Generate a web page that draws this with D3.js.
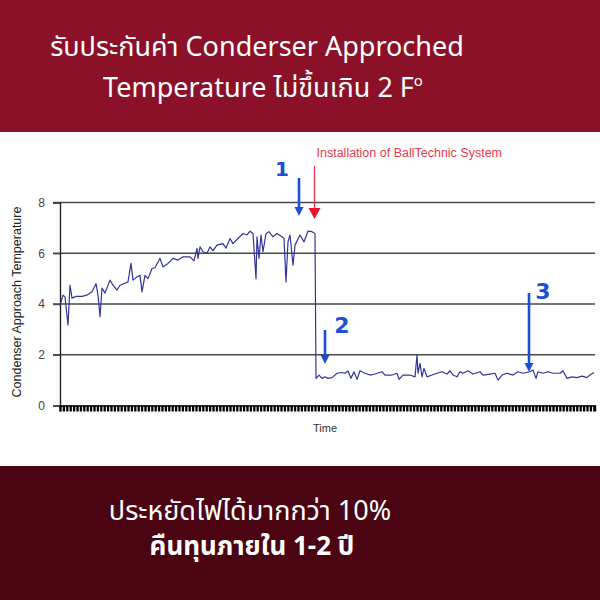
<!DOCTYPE html>
<html><head><meta charset="utf-8">
<script src="https://cdn.jsdelivr.net/npm/d3@7"></script>
<style>html,body{margin:0;padding:0;background:#fff;}svg{display:block;}</style>
</head><body>
<svg id="c" width="600" height="600"></svg>
<script>
// ---- data ----
const timeIdx = [0,3,5,8,10,12,16,22,27,32,36,38,40,42,45,50,53,57,60,65,68,71,73,77,80,82,85,88,92,95,100,103,108,113,118,123,130,134,137,138,140,143,147,150,153,157,163,166,170,173,178,183,187,190,193,196,197,199,201,203,206,209,213,217,222,224,226,228,230,233,235,240,244,248,252,255,
256,259,262,265,268,272,277,282,285,288,291,294,297,300,305,310,315,322,325,332,337,339,343,350,355,357,358,360,362,364,367,372,377,382,387,390,393,397,400,403,408,413,420,423,430,435,438,442,447,453,458,463,470,473,476,478,483,488,493,500,503,507,512,517,522,527,530,534];
const temps = [3.95,4.35,4.28,3.17,4.74,4.23,4.3,4.3,4.35,4.48,4.8,4.35,3.5,4.63,4.43,4.94,4.74,4.55,4.74,4.82,4.87,5.6,4.94,5.07,5.13,4.48,5.13,5.0,5.4,5.43,5.8,5.46,5.6,5.8,5.73,5.86,5.86,5.7,6.19,5.8,6.25,6.06,6.0,6.25,6.1,6.32,6.38,6.2,6.58,6.38,6.58,6.78,6.72,6.87,6.78,5.0,6.65,5.8,6.72,6.06,6.78,6.85,6.65,6.78,6.65,6.58,4.87,6.45,6.72,5.53,6.32,6.72,6.45,6.87,6.85,6.78,
1.07,1.2,1.07,1.13,1.07,1.1,1.27,1.3,1.27,1.36,1.07,1.33,1.03,1.37,1.27,1.2,1.24,1.33,1.2,1.2,1.27,1.03,1.2,1.2,1.13,1.99,1.27,1.66,1.13,1.46,1.13,1.2,1.27,1.33,1.24,1.37,1.2,1.13,1.33,1.27,1.37,1.24,1.33,1.2,1.24,1.27,1.0,1.2,1.27,1.2,1.33,1.27,1.33,1.4,1.07,1.33,1.27,1.33,1.27,1.27,1.37,1.07,1.13,1.1,1.16,1.1,1.2,1.3];
const yTicks = [0,2,4,6,8];
const titleLines = ["รับประกันค่า Conderser Approched", "Temperature ไม่ขึ้นเกิน 2 F"];
const footerLines = ["ประหยัดไฟได้มากกว่า 10%", "คืนทุนภายใน 1-2 ปี"];
const markers = [{label:"1", t:239}, {label:"2", t:265}, {label:"3", t:469}];
const installT = 255;
const installText = "Installation of BallTechnic System";

// ---- layout ----
const svg = d3.select("#c");
const thai = "'Noto Sans Thai','Noto Sans','Noto Sans Thai UI','Loma','Garuda',sans-serif";
const arial = "'Liberation Sans',Arial,sans-serif";

svg.append("rect").attr("x",0).attr("y",0).attr("width",600).attr("height",132).attr("fill","#8b1129");
svg.append("rect").attr("x",0).attr("y",466).attr("width",600).attr("height",134).attr("fill","#4b0512");

svg.append("text").attr("x",257).attr("y",56).attr("text-anchor","middle")
  .attr("fill","#fff").attr("font-family",thai).attr("font-size",27).text(titleLines[0]);
const t2 = svg.append("text").attr("x",263).attr("y",97).attr("text-anchor","middle")
  .attr("fill","#fff").attr("font-family",thai).attr("font-size",27).text(titleLines[1]);
t2.append("tspan").attr("font-size",15).attr("dy",-11).text("o");

svg.append("text").attr("x",250).attr("y",520).attr("text-anchor","middle")
  .attr("fill","#fff").attr("font-family",thai).attr("font-size",27).text(footerLines[0]);
svg.append("text").attr("x",252).attr("y",555).attr("text-anchor","middle")
  .attr("fill","#fff").attr("font-family",thai).attr("font-size",26).attr("font-weight","bold").text(footerLines[1]);

// ---- scales ----
const x = d3.scaleLinear().domain([0,535]).range([60,595]);
const y = d3.scaleLinear().domain([0,8]).range([405.5,202.5]);

// gridlines
svg.append("g").selectAll("line").data(yTicks.filter(d=>d>0)).join("line")
  .attr("x1",53).attr("x2",595).attr("y1",d=>y(d)).attr("y2",d=>y(d))
  .attr("stroke","#4a4a4a").attr("stroke-width",1.4);

// y axis
const yAxis = d3.axisLeft(y).tickValues(yTicks).tickSize(7).tickPadding(8);
const ya = svg.append("g").attr("transform","translate(60,0)").call(yAxis);
ya.select(".domain").attr("stroke","#222").attr("stroke-width",1.4);
ya.selectAll(".tick line").attr("stroke","#4a4a4a").attr("stroke-width",1.4);
ya.selectAll(".tick text").attr("font-family",arial).attr("font-size",12).attr("fill","#444");

// x axis - dense ticks
const xt = d3.range(0,536,3.4);
const xAxis = d3.axisBottom(x).tickValues(xt).tickSize(6).tickFormat("");
const xa = svg.append("g").attr("transform","translate(0,405.5)").call(xAxis);
xa.select(".domain").attr("stroke","#000").attr("stroke-width",1.4);
xa.selectAll(".tick line").attr("stroke","#000").attr("stroke-width",2.3);

svg.append("text").attr("x",325).attr("y",432).attr("text-anchor","middle")
  .attr("font-family",arial).attr("font-size",11).attr("fill","#333").text("Time");
svg.append("text").attr("transform","translate(21,302) rotate(-90)").attr("text-anchor","middle")
  .attr("font-family",arial).attr("font-size",12.5).attr("fill","#222").text("Condenser Approach Temperature");

// data line
const data = timeIdx.map((t,i)=>({t, v:temps[i]}));
svg.append("path").datum(data)
  .attr("d", d3.line().x(d=>x(d.t)).y(d=>y(d.v)))
  .attr("fill","none").attr("stroke","#34349a").attr("stroke-width",1.2).attr("stroke-linejoin","round");

// install annotation
const ix = x(installT) - 0.5;
svg.append("text").attr("x",ix+2).attr("y",157).attr("font-family",arial).attr("font-size",12.5)
  .attr("fill","#e8384f").text(installText);
svg.append("line").attr("x1",ix).attr("x2",ix).attr("y1",166).attr("y2",209)
  .attr("stroke","#e8384f").attr("stroke-width",1.3);
svg.append("path").attr("d",`M${ix-6},208 L${ix+6},208 L${ix},219 Z`).attr("fill","#e4152c");

// blue markers
const blue = "#1c4fd6";
const mk = [
  {lx:-17, ly:176, y1:178, y2:216, fs:20},
  {lx:17, ly:333, y1:330, y2:364, fs:22},
  {lx:14, ly:299, y1:293, y2:372, fs:22}
];
markers.forEach((m,i)=>{
  const p = mk[i]; const mx = x(m.t);
  svg.append("text").attr("x",mx+p.lx).attr("y",p.ly).attr("text-anchor","middle")
    .attr("font-family","'DejaVu Sans',Verdana,sans-serif").attr("font-weight","bold").attr("font-size",p.fs)
    .attr("fill",blue).text(m.label);
  svg.append("line").attr("x1",mx).attr("x2",mx).attr("y1",p.y1).attr("y2",p.y2-8)
    .attr("stroke",blue).attr("stroke-width",2.6);
  svg.append("path").attr("d",`M${mx-4.5},${p.y2-9} L${mx+4.5},${p.y2-9} L${mx},${p.y2} Z`).attr("fill",blue);
});
</script>
</body></html>
